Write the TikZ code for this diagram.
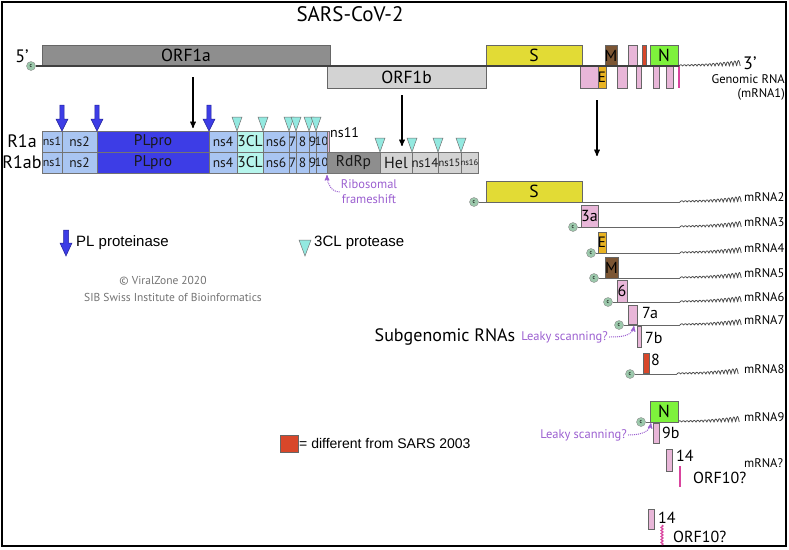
\documentclass[tikz,border=0pt]{standalone}
\usepackage{fontspec}
\setmainfont{PT Sans}
\newfontfamily\arialfont{Liberation Sans}
\usepackage{tikz}
\usetikzlibrary{arrows}
\usetikzlibrary{decorations.pathmorphing}
\definecolor{orfdark}{HTML}{8E8E8E}
\definecolor{orflight}{HTML}{D3D3D3}
\definecolor{spike}{HTML}{E2DB35}
\definecolor{acc}{HTML}{E8B6D8}
\definecolor{envel}{HTML}{E9B322}
\definecolor{mbrown}{HTML}{7B5533}
\definecolor{diffred}{HTML}{D8472A}
\definecolor{ncap}{HTML}{7EF23C}
\definecolor{nsblue}{HTML}{A9C5F2}
\definecolor{plblue}{HTML}{3D3DE6}
\definecolor{plborder}{HTML}{22229A}
\definecolor{clcyan}{HTML}{B6F5EC}
\definecolor{cutcyan}{HTML}{93E9E0}
\definecolor{capgreen}{HTML}{9CC9AC}
\definecolor{orften}{HTML}{D9449E}
\definecolor{leaky}{HTML}{9B5FD0}
\tikzset{
	title text/.style={font=\fontsize{21}{23}\selectfont},
	big text/.style={font=\fontsize{18}{20}\selectfont, inner sep=1pt},
	gene/.style={draw=black!60, line width=0.6pt, font=\fontsize{17.5}{19}\selectfont},
	seg/.style={draw=black!55, line width=0.5pt, text=black!90},
	cap dot/.style={circle, draw=black!45, fill=capgreen, inner sep=0pt, minimum size=9pt, font=\fontsize{6}{6}\selectfont},
	rna/.style={draw=black!75, line width=1.3pt},
	mrna/.style={draw=black!60, line width=0.9pt},
	polya/.style={draw=black!70, line width=0.8pt},
	num text/.style={font=\fontsize{16}{18}\selectfont, inner sep=1pt},
	mrna text/.style={font=\fontsize{12.5}{14}\selectfont, inner sep=1pt},
	note text/.style={font=\fontsize{12.5}{15}\selectfont, text=leaky, inner sep=1pt, align=center},
	leaky arrow/.style={->, draw=leaky, densely dotted, line width=1pt},
	cut tri/.style={draw=black!55, fill=cutcyan, line width=0.5pt},
	pl cut/.style={draw=plborder, fill=plblue, line width=0.5pt},
	cleave/.style={->, line width=1.3pt},
	key text/.style={font=\arialfont\fontsize{15}{17}\selectfont, inner sep=1pt},
	credit text/.style={font=\fontsize{11.5}{13}\selectfont, text=black!55},
	orf ten/.style={draw=orften, line width=1.6pt}
}
\newcommand{\polytail}[1]{\draw[polya, shift={(#1)}] plot[domain=0:61.2, samples=300] (\x,{-(1.2+4.5*(\x/61.2)^2)*abs(sin(\x*180/3.6))});}

\begin{document}
\begin{tikzpicture}[x=1pt,y=-1pt,>=stealth']
	\useasboundingbox (0,0) rectangle (789,549);
	\draw[line width=1.3pt] (2,2) rectangle (786,546);
	\node[title text] (title) at (350,14) {SARS-CoV-2};

	% genomic RNA
	\draw[gene, fill=orfdark] (42,45) rectangle node (orf1a) {ORF1a} (330,66);
	\draw[gene, fill=orflight] (327,66) rectangle node (orf1b) {ORF1b} (486,88);
	\draw[gene, fill=spike] (486,45) rectangle node (gs) {S} (582,66);
	\foreach \xa/\xb/\ya/\yb/\c in {580/598/66/88/acc, 617/627/66/88/acc, 628/637/45/66/acc, 636/641/66/88/acc, 642/646/45/66/diffred, 653/659/66/88/acc, 666/673/66/88/acc}
		\draw[gene, fill=\c] (\xa,\ya) rectangle (\xb,\yb);
	\draw[gene, fill=envel, font=\fontsize{15}{17}\selectfont] (598,66) rectangle node (ge) {E} (606,88);
	\draw[gene, fill=mbrown, font=\fontsize{16}{18}\selectfont] (605,45) rectangle node (gm) {M} (617,66);
	\draw[gene, fill=ncap] (650,45) rectangle node (gn) {N} (678,66);
	\draw[orf ten] (679,66) -- (679,88);
	\node[big text] (five) at (22,56) {5’};
	\node[cap dot] (cap1) at (31,66) {c};
	\coordinate (t1) at (679,66);
	\draw[rna] (cap1) -- (t1);
	\polytail{t1}
	\node[big text, anchor=west] (three) at (742,63) {3’};
	\node[mrna text, anchor=east, align=right] (genomic) at (786,87) {Genomic RNA\\(mRNA1)};

	% polyproteins
	\node[big text] (r1a) at (22,141) {R1a};
	\node[big text] (r1ab) at (22,162) {R1ab};
	\foreach \yt/\rw in {131/a, 152/ab}
		\foreach \xa/\xb/\t/\c/\f in {42/62/ns1/nsblue/12, 62/97/ns2/nsblue/13.5, 97/209/PLpro/plblue/15.5, 209/237/ns4/nsblue/13.5, 237/263/3CL/clcyan/15.5, 263/289/ns6/nsblue/13.5, 289/296/7/nsblue/13.5, 296/309/8/nsblue/13.5, 309/316/9/nsblue/13.5, 316/327/10/nsblue/12}
			\draw[seg, fill=\c, font=\fontsize{\f}{\f}\selectfont] (\xa,\yt) rectangle node (r\rw-\t) {\t} (\xb,\yt+21);
	\draw[seg, fill=acc] (327,131) rectangle (329,152);
	\node[mrna text, anchor=west, font=\fontsize{14}{16}\selectfont] (ns11) at (329,133) {ns11};
	\foreach \xa/\xb/\t/\c/\f in {327/380/RdRp/orfdark/15.5, 380/412/Hel/orflight/16, 412/438/ns14/orflight/13, 438/461/ns15/orflight/10.5, 461/478/ns16/orflight/8.5}
		\draw[seg, fill=\c, font=\fontsize{\f}{\f}\selectfont] (\xa,152) rectangle node (rab-\t) {\t} (\xb,173);
	\foreach \x in {237,263,289,296,309,316}
		\draw[cut tri] (\x-5,117) -- (\x+5,117) -- (\x,131) -- cycle;
	\foreach \x in {380,412,438,461}
		\draw[cut tri] (\x-5,138) -- (\x+5,138) -- (\x,152) -- cycle;
	\foreach \x in {62,97,209}
		\draw[pl cut] (\x-2.2,105) -- (\x+2.2,105) -- (\x+2.2,119) -- (\x+6,119) -- (\x,131) -- (\x-6,119) -- (\x-2.2,119) -- cycle;
	\coordinate (a1s) at (193,77);
	\coordinate (a1e) at (193,128);
	\coordinate (a2s) at (402,95);
	\coordinate (a2e) at (402,146);
	\coordinate (a3s) at (597,100);
	\coordinate (a3e) at (597,156);
	\draw[cleave] (a1s) -- (a1e);
	\draw[cleave] (a2s) -- (a2e);
	\draw[cleave] (a3s) -- (a3e);
	\node[note text] (fs) at (369,192) {Ribosomal\\frameshift};
	\coordinate (fs-tip) at (327,175);
	\draw[leaky arrow] (fs.west) to[out=180,in=-90] (fs-tip);

	% legend
	\draw[pl cut] (63.5,230) -- (68.5,230) -- (68.5,243) -- (72,243) -- (66,256) -- (60,243) -- (63.5,243) -- cycle;
	\node[key text, anchor=west] (plkey) at (75,243) {PL proteinase};
	\draw[cut tri] (299,240) -- (311,240) -- (305,256) -- cycle;
	\node[key text, anchor=west] (clkey) at (313,243) {3CL protease};
	\node[credit text] (credit1) at (163,281) {© ViralZone 2020};
	\node[credit text] (credit2) at (173,297) {SIB Swiss Institute of Bioinformatics};
	\draw[draw=black!60, fill=diffred] (280,435) rectangle (298,452);
	\node[key text, anchor=west, font=\arialfont\fontsize{14}{16}\selectfont] (diffkey) at (298,443) {= different from SARS 2003};

	% subgenomic RNAs
	\node[font=\fontsize{18}{20}\selectfont] (sub) at (445,337) {Subgenomic RNAs};
	\foreach \y/\cx/\tx/\n in {202/474/680/2, 227/573/680/3, 253/591/680/4, 278/594/680/5, 302/608/680/6, 325/619/680/7, 374/630/677/8, 422/641/678/9} {
		\node[cap dot] (cap\n) at (\cx,\y) {c};
		\coordinate (t\n) at (\tx,\y);
		\draw[mrna] (cap\n) -- (t\n);
		\polytail{t\n}
		\node[mrna text, anchor=base west] (lab\n) at (743,\y-1) {mRNA\n};
	}
	\draw[gene, fill=spike] (486,181) rectangle node (ss) {S} (582,202);
	\draw[gene, fill=acc, font=\fontsize{16}{18}\selectfont] (581,205) rectangle node (s3a) {3a} (598,227);
	\draw[gene, fill=envel, font=\fontsize{15}{17}\selectfont] (598,232) rectangle node (se) {E} (606,253);
	\draw[gene, fill=mbrown, font=\fontsize{16}{18}\selectfont] (605,257) rectangle node (sm) {M} (618,278);
	\draw[gene, fill=acc, font=\fontsize{16}{18}\selectfont] (617,280) rectangle node (s6) {6} (627,302);
	\draw[gene, fill=acc] (628,305) rectangle (637,324);
	\node[num text, anchor=west] (s7a) at (641,313) {7a};
	\draw[gene, fill=acc] (637,326) rectangle (641,347);
	\node[num text, anchor=west] (s7b) at (644,338) {7b};
	\draw[gene, fill=diffred] (643,353) rectangle (649,373);
	\node[num text, anchor=west] (s8) at (650,360) {8};
	\draw[gene, fill=ncap] (650,401) rectangle node (sn) {N} (678,422);
	\draw[gene, fill=acc] (653,423) rectangle (659,443);
	\node[num text, anchor=west] (s9b) at (661,433) {9b};
	\draw[gene, fill=acc] (666,449) rectangle (672,471);
	\node[num text, anchor=west] (s14a) at (675,456) {14};
	\draw[orf ten] (680,466) -- (680,487);
	\node[num text, anchor=west] (orf10a) at (692,478) {ORF10?};
	\node[mrna text, anchor=west] (mq) at (743,463) {mRNA?};
	\draw[gene, fill=acc] (648,509) rectangle (654,529);
	\node[num text, anchor=west] (s14b) at (657,518) {14};
	\draw[orf ten, line width=1.2pt, decorate, decoration={snake, amplitude=1pt, segment length=3pt}] (662,525) -- (662,545);
	\node[num text, anchor=west] (orf10b) at (672,537) {ORF10?};
	\node[note text, anchor=east] (leak1) at (609,337) {Leaky scanning?};
	\coordinate (leak1-tip) at (634,326);
	\draw[leaky arrow] (leak1.east) to[out=0,in=-100] (leak1-tip);
	\node[note text, anchor=east] (leak2) at (628,435) {Leaky scanning?};
	\coordinate (leak2-tip) at (651,423);
	\draw[leaky arrow] (leak2.east) to[out=0,in=-100] (leak2-tip);
\end{tikzpicture}
\end{document}
